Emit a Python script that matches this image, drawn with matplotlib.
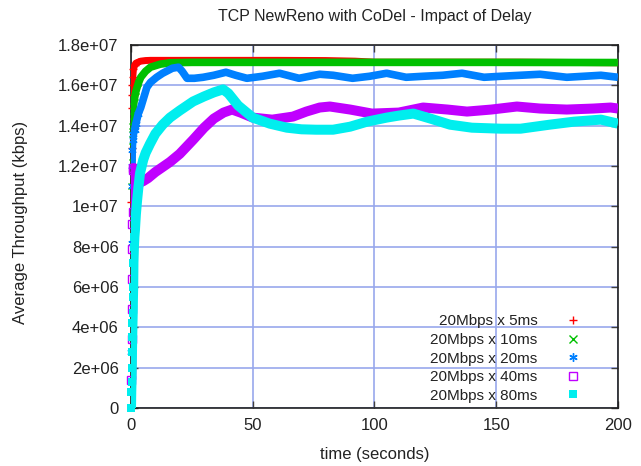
import matplotlib
matplotlib.use("Agg")
import matplotlib.pyplot as plt
from matplotlib.ticker import MultipleLocator, FuncFormatter

plt.rcParams['font.family'] = ['Liberation Sans', 'DejaVu Sans']

# throughput samples, values in units of 1e6
t_5 = [0.1, 0.2, 0.3, 0.4, 0.5, 0.7, 1, 1.5, 2, 3, 4, 6, 8, 12, 20, 40, 60, 80, 92, 100, 130, 160, 200]
v_5 = [10.2, 12.9, 14.9, 15.5, 16.0, 16.4, 16.8, 17.0, 17.1, 17.15, 17.2, 17.23, 17.24, 17.24, 17.24,
       17.24, 17.24, 17.23, 17.2, 17.15, 17.15, 17.15, 17.12]

t_10 = [0.1, 0.2, 0.3, 0.4, 0.5, 0.7, 1, 1.5, 2, 3, 4, 6, 8, 12, 16, 25, 50, 100, 150, 200]
v_10 = [11.0, 12.2, 13.0, 13.6, 14.0, 14.5, 15.0, 15.4, 15.7, 16.1, 16.4, 16.7, 16.9, 17.05, 17.12,
        17.14, 17.14, 17.14, 17.14, 17.13]

t_20 = [0.1, 0.2, 0.3, 0.4, 0.5, 0.7, 1, 1.5, 2, 3, 4, 5, 6.5, 8, 10.5, 13, 17, 19.5, 21, 23, 26,
        29.6, 34, 39, 43, 47.6, 54, 61, 69, 77.5, 83, 91, 98, 105, 113, 120, 128, 136, 145, 152,
        160, 168, 179, 186, 193, 200]
v_20 = [2.8, 8.2, 11.0, 12.0, 12.8, 13.3, 13.6, 13.8, 14.1, 14.6, 14.9, 15.3, 15.9, 16.15, 16.4,
        16.6, 16.85, 16.9, 16.7, 16.35, 16.35, 16.4, 16.5, 16.65, 16.5, 16.35, 16.45, 16.6, 16.35,
        16.55, 16.5, 16.35, 16.45, 16.6, 16.4, 16.45, 16.5, 16.6, 16.4, 16.45, 16.5, 16.55, 16.4,
        16.45, 16.5, 16.4]

t_40 = [0.1, 0.2, 0.3, 0.4, 0.5, 0.6, 0.7, 0.8, 1, 1.5, 2, 3, 4, 5, 7, 10, 13, 16, 20, 25.5, 30,
        34, 38, 41.5, 45, 50, 58, 66.5, 72, 77.5, 81.7, 90, 99, 110, 120, 130, 138, 148, 158.5,
        168, 179, 190, 197, 200]
v_40 = [1.4, 3.4, 4.9, 6.4, 7.9, 9.1, 9.7, 11.8, 11.9, 11.6, 11.3, 11.2, 11.2, 11.25, 11.4, 11.7,
        11.95, 12.2, 12.6, 13.3, 13.9, 14.35, 14.65, 14.8, 14.65, 14.4, 14.3, 14.45, 14.7, 14.9,
        14.95, 14.8, 14.6, 14.65, 14.9, 14.8, 14.7, 14.8, 14.95, 14.85, 14.8, 14.85, 14.9, 14.85]

t_80 = [0, 0.1, 0.2, 0.3, 0.4, 0.5, 0.6, 0.7, 0.8, 0.9, 1.0, 1.2, 1.4, 1.6, 2, 2.5, 3, 3.7, 5, 6,
        7.8, 10, 13, 16, 20, 25.5, 30, 34, 37.8, 40, 44, 50, 57, 64, 70, 76, 83, 90, 97, 105, 110,
        116, 123, 131, 140, 152, 160, 172, 182, 193, 200]
v_80 = [0, 0.8, 1.3, 2.0, 2.8, 3.5, 4.2, 4.7, 5.5, 6.0, 7.2, 8.0, 8.5, 8.8, 9.6, 10.3, 10.9, 11.65,
        12.3, 12.65, 13.1, 13.6, 14.05, 14.4, 14.75, 15.2, 15.45, 15.65, 15.8, 15.6, 15.0, 14.4,
        14.1, 13.9, 13.82, 13.8, 13.8, 13.95, 14.2, 14.4, 14.5, 14.6, 14.35, 14.05, 13.9, 13.85,
        13.85, 14.05, 14.2, 14.3, 14.1]

labels = ['20Mbps x 5ms', '20Mbps x 10ms', '20Mbps x 20ms', '20Mbps x 40ms', '20Mbps x 80ms']

series = [
    (t_5, v_5, '#ff0000', dict(marker='+', ms=6, mew=1.0), 5.0),
    (t_10, v_10, '#00c000', dict(marker='x', ms=5, mew=1.0), 5.5),
    (t_20, v_20, '#0080ff', dict(marker=(6, 2, 0), ms=6, mew=1.0), 5.5),
    (t_40, v_40, '#c000ff', dict(marker='s', ms=5.5, mew=1.0, mfc='none'), 7.2),
    (t_80, v_80, '#00eeee', dict(marker='s', ms=5.5, mew=0), 7.2),
]

fig = plt.figure(figsize=(6.41, 4.66), dpi=100)
ax = fig.add_axes([0.2044, 0.1245, 0.7596, 0.7789])

handles = []
for (t, v, c, mk, lw), lab in zip(series, labels):
    y = [x * 1e6 for x in v]
    ax.plot(t, y, color=c, lw=lw, solid_capstyle='butt', zorder=3)
    # separate points only show where the curve climbs steeply
    early = [i for i, x in enumerate(t) if x <= 3]
    h, = ax.plot(t, y, ls='none', color=c, mec=c, clip_on=False, zorder=3, label=lab,
                 markevery=early, **mk)
    handles.append(h)

ax.set_xlim(0, 200)
ax.set_ylim(0, 1.8e7)
ax.xaxis.set_major_locator(MultipleLocator(50))
ax.yaxis.set_major_locator(MultipleLocator(2e6))
ax.yaxis.set_major_formatter(FuncFormatter(lambda v, p: '%g' % v))
ax.tick_params(direction='in', top=True, right=True, length=5, width=1, color='#404040',
               labelsize=12, labelcolor='#222222')
ax.tick_params(axis='y', pad=9)
ax.tick_params(axis='x', pad=7)
ax.grid(True, color='#98a8ec', lw=1.2)
ax.set_axisbelow(True)
for s in ax.spines.values():
    s.set_color('#202020')
    s.set_linewidth(1.2)

ax.set_title('TCP NewReno with CoDel - Impact of Delay', fontsize=11.5, pad=17, color='#222222')
ax.set_xlabel('time (seconds)', fontsize=12, labelpad=10, color='#222222')
ax.set_ylabel('Average Throughput (kbps)', fontsize=12, color='#222222')
ax.yaxis.set_label_coords(-0.212, 0.51)

leg = ax.legend(handles=handles, loc='lower right', bbox_to_anchor=(0.945, -0.015), frameon=False,
                markerfirst=False, fontsize=11, labelspacing=0.3, handlelength=1.0,
                handletextpad=1.8, borderpad=0.2, labelcolor='#222222')
for h in leg.legend_handles:
    h.set_markersize(6)

fig.savefig('out.png', dpi=100)
